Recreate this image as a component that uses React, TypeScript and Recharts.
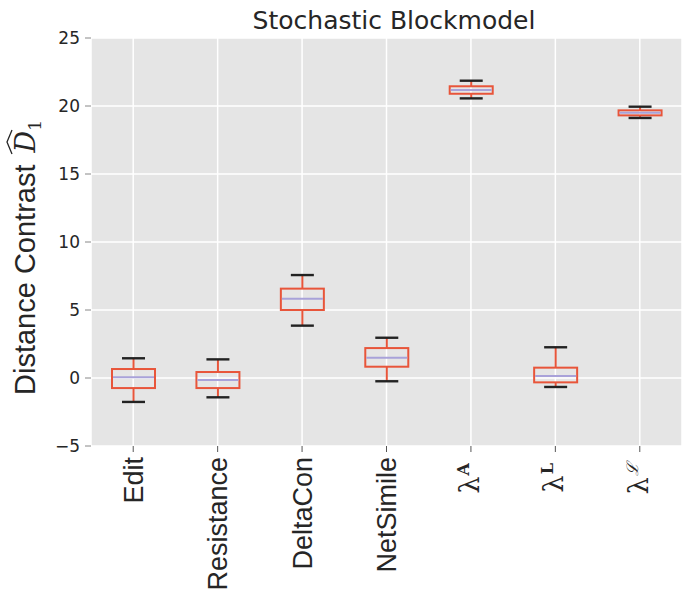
import React from "react";
import {
  ComposedChart,
  Bar,
  XAxis,
  YAxis,
  CartesianGrid,
} from "recharts";

// methods on the x axis
const CATEGORIES = ["Edit", "Resistance", "DeltaCon", "NetSimile", "λA", "λL", "λC"];

// box plot stats
const WHISKER_LOW = [-1.76, -1.42, 3.85, -0.24, 20.56, -0.66, 19.12];
const Q1 = [-0.74, -0.74, 5.0, 0.83, 20.9, -0.32, 19.31];
const MEDIAN = [0.05, -0.15, 5.83, 1.49, 21.18, 0.15, 19.51];
const Q3 = [0.66, 0.44, 6.57, 2.2, 21.45, 0.76, 19.68];
const WHISKER_HIGH = [1.45, 1.37, 7.57, 2.96, 21.86, 2.26, 19.95];

const Y_TICKS = [-5, 0, 5, 10, 15, 20, 25];

const BOX_COLOR = "#E8553A";
const MEDIAN_COLOR = "#A9A2D9";
const CAP_COLOR = "#222222";
const TEXT_COLOR = "#262626";
const SANS = "'DejaVu Sans', sans-serif";
const LABEL_SANS = "'Liberation Sans', Arial, sans-serif";
const SERIF = "'DejaVu Serif', serif";

const rows = CATEGORIES.map((name, i) => ({
  name,
  lo: WHISKER_LOW[i],
  q1: Q1[i],
  med: MEDIAN[i],
  q3: Q3[i],
  hi: WHISKER_HIGH[i],
}));

// superscripts for the lambda labels
const LAMBDA_SUP: Record<string, { ch: string; bold?: boolean; italic?: boolean }> = {
  "λA": { ch: "A", bold: true },
  "λL": { ch: "L", bold: true },
  "λC": { ch: "ℒ", italic: true },
};

function BoxShape(props: any) {
  const { x, y, width, height, payload } = props;
  const top = Math.min(y, y + height);
  const h = Math.abs(height);
  const ppu = h / (payload.q3 - payload.q1);
  const py = (v: number) => top + (payload.q3 - v) * ppu;
  const cx = x + width / 2;
  const cap = 11.5;
  return (
    <g>
      <line x1={cx} x2={cx} y1={py(payload.hi)} y2={top} stroke={BOX_COLOR} strokeWidth={2} />
      <line x1={cx} x2={cx} y1={top + h} y2={py(payload.lo)} stroke={BOX_COLOR} strokeWidth={2} />
      <rect x={x} y={top} width={width} height={h} fill="none" stroke={BOX_COLOR} strokeWidth={2} />
      <line x1={x + 1} x2={x + width - 1} y1={py(payload.med)} y2={py(payload.med)} stroke={MEDIAN_COLOR} strokeWidth={2} />
      <line x1={cx - cap} x2={cx + cap} y1={py(payload.hi)} y2={py(payload.hi)} stroke={CAP_COLOR} strokeWidth={2.4} />
      <line x1={cx - cap} x2={cx + cap} y1={py(payload.lo)} y2={py(payload.lo)} stroke={CAP_COLOR} strokeWidth={2.4} />
    </g>
  );
}

function XTick(props: any) {
  const { x, y, payload } = props;
  const label: string = payload.value;
  const sup = LAMBDA_SUP[label];
  if (sup) {
    return (
      <g transform={`translate(${x},${y + 6}) rotate(-90)`}>
        <text textAnchor="end" dy="0.3em" fill={TEXT_COLOR} fontFamily={SERIF} fontSize={27}>
          λ
          <tspan
            dx={1}
            dy={-10}
            fontSize={16}
            fontWeight={sup.bold ? "bold" : "normal"}
            fontStyle={sup.italic ? "italic" : "normal"}
          >
            {sup.ch}
          </tspan>
        </text>
      </g>
    );
  }
  return (
    <g transform={`translate(${x},${y}) rotate(-90)`}>
      <text textAnchor="end" dy="0.36em" fill={TEXT_COLOR} fontFamily={LABEL_SANS} fontSize={27}>
        {label}
      </text>
    </g>
  );
}

function EmptyTick() {
  return <g />;
}

function YLabel() {
  // "Distance Contrast  D-hat_1", rotated
  return (
    <g transform="translate(35,395) rotate(-90)">
      <text x={0} y={0} fill={TEXT_COLOR} fontFamily={LABEL_SANS} fontSize={29}>
        Distance Contrast
        <tspan dx={12} fontFamily={SERIF} fontStyle="italic" fontSize={27}>
          D
        </tspan>
        <tspan fontFamily={SERIF} fontSize={17} dy={6}>
          1
        </tspan>
      </text>
      <path d="M241,-23 L253,-28 L265,-23" fill="none" stroke={TEXT_COLOR} strokeWidth={1.3} />
    </g>
  );
}

export default function App() {
  return (
    <div style={{ width: 682, height: 594, position: "relative", background: "#fff" }}>
      <style>{"body{margin:0}"}</style>
      <ComposedChart
        width={682}
        height={594}
        data={rows}
        margin={{ top: 38, right: 0, bottom: 0, left: 0 }}
      >
        <CartesianGrid fill="#E5E5E5" stroke="#FFFFFF" strokeWidth={1.5} />
        <XAxis
          dataKey="name"
          height={148}
          interval={0}
          axisLine={false}
          tickLine={{ stroke: "#555", strokeWidth: 1 }}
          tickSize={6}
          tickMargin={5}
          tick={<XTick />}
        />
        <XAxis
          xAxisId="top"
          orientation="top"
          dataKey="name"
          height={0}
          interval={0}
          axisLine={false}
          tickLine={{ stroke: "#555", strokeWidth: 1 }}
          tickSize={5}
          tick={<EmptyTick />}
        />
        <YAxis
          type="number"
          domain={[-5, 25]}
          ticks={Y_TICKS}
          width={91}
          axisLine={false}
          tickLine={{ stroke: "#888", strokeWidth: 1 }}
          tickSize={6}
          tickMargin={5}
          tick={{ fill: TEXT_COLOR, fontFamily: SANS, fontSize: 17 }}
          tickFormatter={(v: number) => (v < 0 ? `\u2212${Math.abs(v)}` : String(v))}
          label={<YLabel />}
        />
        <Bar
          dataKey={(d: any) => [d.q1, d.q3]}
          barSize={43}
          shape={<BoxShape />}
          isAnimationActive={false}
        />
        <text x={394} y={29} textAnchor="middle" fill={TEXT_COLOR} fontFamily={SANS} fontSize={25}>
          Stochastic Blockmodel
        </text>
      </ComposedChart>
    </div>
  );
}
